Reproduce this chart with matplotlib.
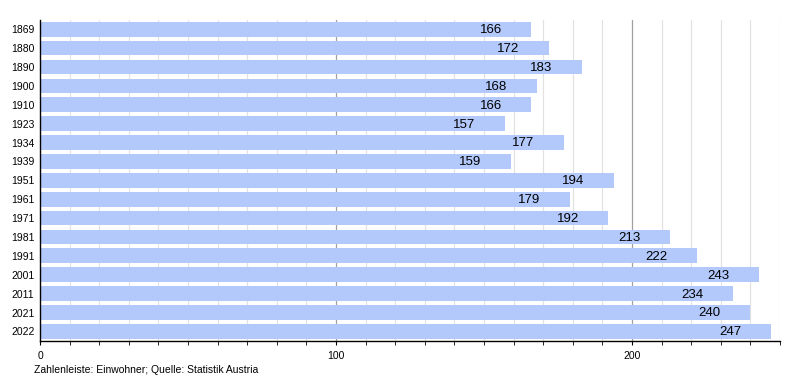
import matplotlib.pyplot as plt
import numpy as np

plt.rcParams['font.family'] = ['Liberation Sans', 'DejaVu Sans']

years = ["1869", "1880", "1890", "1900", "1910", "1923", "1934", "1939", "1951",
         "1961", "1971", "1981", "1991", "2001", "2011", "2021", "2022"]
einwohner = [166, 172, 183, 168, 166, 157, 177, 159, 194,
             179, 192, 213, 222, 243, 234, 240, 247]

fig = plt.figure(figsize=(8, 3.8), dpi=100)
ax = fig.add_axes([0.05, 0.103, 0.925, 0.845])

y = np.arange(len(years))
ax.barh(y, einwohner, height=0.78, color="#b3c9fb", zorder=2)

# vertical grid lines every 10, darker at 100 and 200
for gx in range(10, 251, 10):
    c = "#a0a0a0" if gx % 100 == 0 else "#e2e2e2"
    ax.axvline(gx, color=c, lw=0.9, zorder=1)

for yi, v in zip(y, einwohner):
    ax.text(v - 10, yi + 0.05, str(v), ha="right", va="center", fontsize=9.5, zorder=3)

ax.set_xlim(0, 250)
ax.set_ylim(len(years) - 0.5, -0.5)
ax.set_yticks(y)
ax.set_yticklabels(years, fontsize=7.5)
ax.tick_params(axis="y", length=0, pad=4)
ax.set_xticks([0, 100, 200])
ax.set_xticks(range(0, 251, 10), minor=True)
ax.tick_params(axis="x", which="both", length=3, direction="out", labelsize=7.5, pad=4)

for s in ["top", "right"]:
    ax.spines[s].set_visible(False)
ax.spines["left"].set_linewidth(1)
ax.spines["bottom"].set_linewidth(1)

fig.text(0.043, 0.018, "Zahlenleiste: Einwohner; Quelle: Statistik Austria", fontsize=7.5)

plt.savefig("out.png")
